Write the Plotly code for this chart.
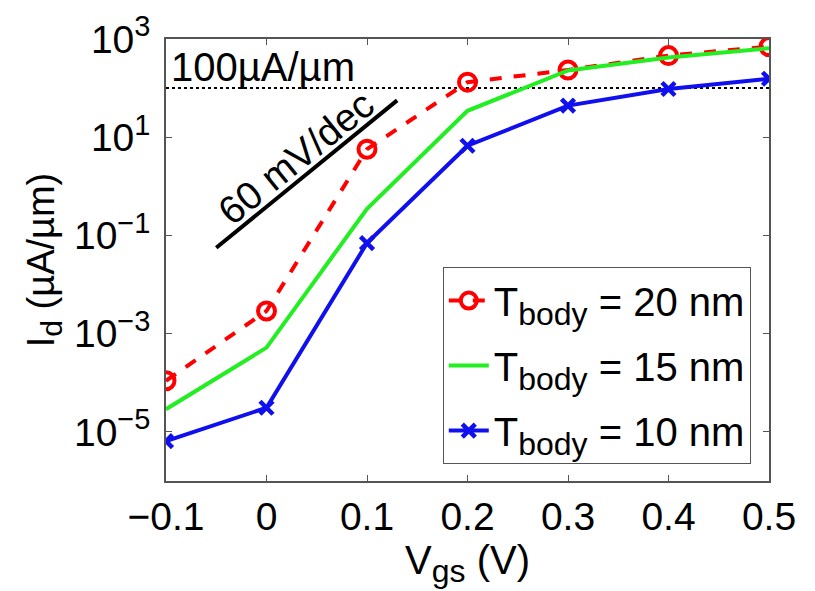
import plotly.graph_objects as go

vgs = [-0.1, 0.0, 0.1, 0.2, 0.3, 0.4, 0.5]
id_20nm = [1.1e-4, 2.9e-3, 5.7, 132, 234, 460, 700]
id_15nm = [2.9e-5, 5.2e-4, 0.35, 34.5, 229, 420, 650]
id_10nm = [6.5e-6, 3.1e-5, 0.07, 6.7, 44, 96, 155]
SUB = "<sub><span style='font-size:32px'>body</span></sub>"
names = ["T" + SUB + " = 20 nm", "T" + SUB + " = 15 nm", "T" + SUB + " = 10 nm"]

ref_x = [-0.1, 0.5]
ref_y = [100, 100]
slope_x = [-0.05, 0.13]
slope_y = [10 ** -1.25, 10 ** 1.75]

ytick_vals = [1e-5, 1e-3, 1e-1, 1e1, 1e3]
exps = ["−5", "−3", "−1", "1", "3"]
ytick_text = ["10<sup><span style='font-size:29px'>" + e + "</span></sup>" for e in exps]
xtick_vals = [-0.1, 0, 0.1, 0.2, 0.3, 0.4, 0.5]
xtick_text = ["−0.1", "0", "0.1", "0.2", "0.3", "0.4", "0.5"]

FONT = "Liberation Sans, Arial, Helvetica, sans-serif"

fig = go.Figure()
fig.add_trace(go.Scatter(x=ref_x, y=ref_y, mode="lines", showlegend=False,
                         line=dict(color="black", width=2, dash="dot")))
fig.add_trace(go.Scatter(x=slope_x, y=slope_y, mode="lines", showlegend=False,
                         line=dict(color="black", width=4)))
fig.add_trace(go.Scatter(x=vgs, y=id_20nm, name=names[0], mode="lines+markers",
                         legendgroup="a",
                         line=dict(color="#ff0000", width=4, dash="dash"),
                         marker=dict(symbol="circle-open", size=17, color="#ff0000",
                                     line=dict(width=4, color="#ff0000"))))
fig.add_trace(go.Scatter(x=vgs, y=id_15nm, name=names[1], mode="lines",
                         legendgroup="b",
                         line=dict(color="#22ee22", width=4)))
fig.add_trace(go.Scatter(x=vgs, y=id_10nm, name=names[2], mode="lines+markers",
                         legendgroup="c",
                         line=dict(color="#1010ee", width=4),
                         marker=dict(symbol="x-thin-open", size=13, color="#1010ee",
                                     line=dict(width=4.5, color="#1010ee"))))

axis_common = dict(showgrid=False, zeroline=False, showline=True, linecolor="#555555",
                   linewidth=1.5, mirror="ticks", ticks="inside", ticklen=6,
                   tickcolor="#555555", automargin=False,
                   tickfont=dict(size=39, color="black", family=FONT))

fig.update_xaxes(range=[-0.1, 0.5], tickvals=xtick_vals, ticktext=xtick_text,
                 title=dict(text="V<sub><span style='font-size:32px'>gs</span></sub> (V)",
                            font=dict(size=40, family=FONT, color="black"),
                            standoff=0),
                 **axis_common)
fig.update_yaxes(type="log", range=[-6, 3], tickvals=ytick_vals, ticktext=ytick_text,
                 ticklabelstandoff=6,
                 title=dict(text="I<sub><span style='font-size:30px'>d</span></sub> (µA/µm)",
                            font=dict(size=38, family=FONT, color="black"),
                            standoff=8),
                 **axis_common)

fig.add_annotation(x=-0.097, y=2.42, xref="x", yref="y", text="100µA/µm", showarrow=False,
                   xanchor="left", yanchor="middle", font=dict(size=40, family=FONT, color="black"))
fig.add_annotation(x=0.0295, y=0.58, xref="x", yref="y", text="60 mV/dec", showarrow=False,
                   textangle=-39, font=dict(size=39, family=FONT, color="black"))

fig.update_layout(
    width=815, height=591,
    margin=dict(l=166, r=46, t=39, b=110),
    paper_bgcolor="white", plot_bgcolor="white",
    font=dict(family=FONT, color="black"),
    legend=dict(x=0.459, y=0.484, xanchor="left", yanchor="top",
                bgcolor="white", bordercolor="#555555", borderwidth=1,
                itemwidth=40,
                font=dict(size=40, family=FONT, color="black"), tracegroupgap=10,
                traceorder="grouped"),
)

fig.write_html("out.html")
